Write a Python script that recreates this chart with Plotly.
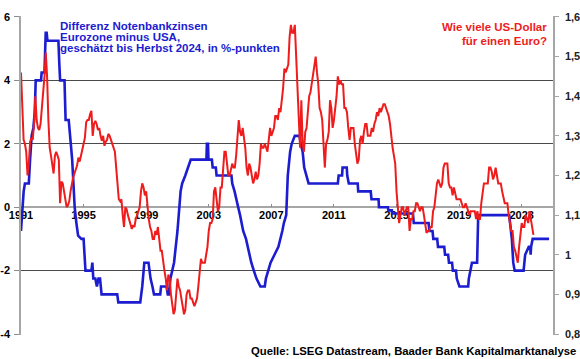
import plotly.graph_objects as go

# ---------------- data ----------------
# Differential of central bank rates, euro area (Bundesbank before 1999) minus USA, in %-points
blue_years = [1991.00, 1991.08, 1991.17, 1991.25, 1991.50, 1991.58, 1991.68, 1991.79, 1991.88, 1991.94,
              1992.28, 1992.32, 1992.50, 1992.58, 1992.64, 1992.69, 1993.39, 1993.45, 1993.50, 1993.78,
              1993.85, 1994.05, 1994.20, 1994.27, 1994.35, 1994.43, 1994.54, 1994.65, 1994.86, 1995.00,
              1995.12, 1995.50, 1995.56, 1995.62, 1995.75, 1995.85, 1995.95, 1996.05, 1996.15, 1997.15,
              1997.22, 1998.62, 1998.75, 1998.88, 1999.15, 1999.28, 1999.40, 1999.50, 1999.90, 1999.95,
              2000.30, 2000.38, 2000.45, 2000.55, 2000.78, 2001.00, 2001.20, 2001.30, 2001.50, 2001.70,
              2001.85, 2002.85, 2002.88, 2002.95, 2002.98, 2003.20, 2003.25, 2003.45, 2003.50, 2004.45,
              2004.50, 2004.65, 2004.75, 2004.88, 2005.00, 2005.10, 2005.20, 2005.38, 2005.48, 2005.62,
              2005.72, 2005.88, 2006.05, 2006.30, 2006.58, 2006.65, 2006.80, 2006.95, 2007.20, 2007.45,
              2007.70, 2007.80, 2007.95, 2008.05, 2008.20, 2008.30, 2008.50, 2008.80, 2008.88, 2009.00,
              2009.10, 2009.25, 2009.38, 2011.25, 2011.30, 2011.52, 2011.55, 2011.82, 2011.85, 2011.95,
              2012.52, 2012.55, 2013.35, 2013.40, 2013.85, 2013.88, 2014.45, 2014.48, 2014.70, 2014.72,
              2016.05, 2016.10, 2017.05, 2017.10, 2017.30, 2017.35, 2017.60, 2017.65, 2018.05, 2018.10,
              2018.30, 2018.35, 2018.55, 2018.60, 2018.80, 2018.85, 2019.02, 2019.58, 2019.62, 2019.72,
              2019.82, 2020.15, 2020.22, 2022.20, 2022.25, 2022.37, 2022.46, 2022.55, 2023.12, 2023.15,
              2023.22, 2023.45, 2023.55, 2023.57, 2023.60, 2023.70, 2024.75]
blue_diff = [-0.75, 0.0, 0.5, 0.75, 0.75, 1.5, 2.25, 2.5, 3.0, 4.0,
             4.0, 4.25, 4.25, 5.5, 5.5, 5.25, 5.25, 4.5, 4.0, 4.0,
             2.75, 2.75, 2.0, 1.5, 0.75, 0.0, -0.5, -0.9, -1.0, -1.0,
             -2.0, -2.0, -1.75, -2.25, -2.25, -2.5, -2.25, -2.25, -2.75, -2.75,
             -3.0, -3.0, -2.5, -1.75, -1.75, -2.25, -2.5, -2.75, -2.75, -2.5,
             -2.5, -2.75, -2.75, -2.25, -1.75, -0.75, 0.5, 0.75, 1.0, 1.25,
             1.5, 1.5, 2.0, 2.0, 1.5, 1.5, 1.25, 1.25, 1.0, 1.0,
             0.75, 0.5, 0.25, 0.0, -0.25, -0.5, -0.75, -1.0, -1.25, -1.5,
             -1.75, -2.0, -2.25, -2.5, -2.5, -2.25, -2.0, -1.75, -1.5, -1.25,
             -0.75, -0.5, -0.25, 1.0, 1.75, 2.0, 2.25, 2.25, 2.0, 1.75,
             1.25, 1.0, 0.75, 0.75, 1.0, 1.0, 1.25, 1.25, 1.0, 0.75,
             0.75, 0.5, 0.5, 0.25, 0.25, 0.0, 0.0, -0.1, -0.1, -0.2,
             -0.2, -0.5, -0.5, -0.75, -0.75, -1.0, -1.0, -1.25, -1.25, -1.5,
             -1.5, -1.75, -1.75, -2.0, -2.0, -2.25, -2.5, -2.5, -2.25, -2.0,
             -1.75, -1.75, -0.25, -0.25, -0.5, -1.0, -1.75, -2.0, -2.0, -1.75,
             -1.5, -1.25, -1.25, -1.5, -1.25, -1.0, -1.0]

# US-Dollar per Euro, monthly from January 1991 (synthetic before 1999)
usd_first_year = 1991
usd_per_eur = [
    1.46, 1.36, 1.29, 1.28, 1.26, 1.20, 1.23, 1.285, 1.295, 1.29, 1.33, 1.40,      # 1991
    1.34, 1.32, 1.315, 1.33, 1.365, 1.40, 1.45, 1.51, 1.45, 1.34, 1.27, 1.25,      # 1992
    1.23, 1.205, 1.25, 1.26, 1.25, 1.24, 1.13, 1.185, 1.18, 1.16, 1.13, 1.12,      # 1993
    1.125, 1.135, 1.16, 1.18, 1.195, 1.205, 1.215, 1.225, 1.245, 1.235, 1.25, 1.27,  # 1994
    1.28, 1.295, 1.335, 1.34, 1.34, 1.355, 1.363, 1.30, 1.33, 1.338, 1.33, 1.315,  # 1995
    1.32, 1.30, 1.288, 1.30, 1.275, 1.285, 1.29, 1.305, 1.30, 1.29, 1.28, 1.275,   # 1996
    1.26, 1.22, 1.18, 1.14, 1.135, 1.14, 1.10, 1.07, 1.12, 1.115, 1.10, 1.09,      # 1997
    1.08, 1.065, 1.075, 1.07, 1.09, 1.10, 1.105, 1.12, 1.16, 1.18, 1.17, 1.15,     # 1998
    1.16, 1.12, 1.09, 1.07, 1.06, 1.04, 1.04, 1.06, 1.05, 1.07, 1.03, 1.01,        # 1999
    1.01, 0.98, 0.96, 0.94, 0.91, 0.95, 0.94, 0.90, 0.87, 0.85, 0.86, 0.90,        # 2000
    0.94, 0.92, 0.91, 0.89, 0.87, 0.85, 0.86, 0.90, 0.91, 0.91, 0.89, 0.89,        # 2001
    0.88, 0.87, 0.88, 0.89, 0.92, 0.96, 0.99, 0.98, 0.98, 0.98, 1.00, 1.02,        # 2002
    1.06, 1.08, 1.08, 1.09, 1.16, 1.17, 1.14, 1.11, 1.12, 1.17, 1.17, 1.23,        # 2003
    1.26, 1.26, 1.23, 1.20, 1.20, 1.22, 1.23, 1.22, 1.22, 1.25, 1.30, 1.34,        # 2004
    1.31, 1.30, 1.32, 1.29, 1.27, 1.22, 1.20, 1.23, 1.22, 1.20, 1.18, 1.19,        # 2005
    1.21, 1.19, 1.20, 1.23, 1.28, 1.27, 1.27, 1.28, 1.27, 1.26, 1.29, 1.32,        # 2006
    1.30, 1.31, 1.32, 1.35, 1.35, 1.34, 1.37, 1.36, 1.39, 1.42, 1.47, 1.46,        # 2007
    1.47, 1.48, 1.55, 1.58, 1.56, 1.56, 1.58, 1.50, 1.44, 1.33, 1.27, 1.39,        # 2008
    1.28, 1.26, 1.31, 1.32, 1.36, 1.40, 1.41, 1.43, 1.46, 1.48, 1.50, 1.46,        # 2009
    1.43, 1.37, 1.36, 1.34, 1.26, 1.22, 1.28, 1.29, 1.31, 1.39, 1.37, 1.32,        # 2010
    1.34, 1.37, 1.40, 1.45, 1.43, 1.44, 1.43, 1.43, 1.37, 1.37, 1.36, 1.32,        # 2011
    1.29, 1.32, 1.32, 1.32, 1.28, 1.25, 1.23, 1.24, 1.29, 1.30, 1.28, 1.31,        # 2012
    1.33, 1.33, 1.30, 1.30, 1.30, 1.32, 1.31, 1.33, 1.34, 1.36, 1.35, 1.37,        # 2013
    1.36, 1.37, 1.38, 1.38, 1.37, 1.36, 1.35, 1.33, 1.29, 1.27, 1.25, 1.23,        # 2014
    1.16, 1.12, 1.08, 1.10, 1.12, 1.12, 1.10, 1.11, 1.12, 1.12, 1.06, 1.09,        # 2015
    1.09, 1.11, 1.11, 1.13, 1.13, 1.12, 1.11, 1.12, 1.12, 1.10, 1.07, 1.055,       # 2016
    1.06, 1.06, 1.07, 1.07, 1.11, 1.12, 1.15, 1.18, 1.19, 1.18, 1.17, 1.18,        # 2017
    1.22, 1.23, 1.23, 1.23, 1.18, 1.17, 1.17, 1.15, 1.17, 1.15, 1.14, 1.14,        # 2018
    1.14, 1.14, 1.13, 1.12, 1.12, 1.13, 1.12, 1.11, 1.10, 1.11, 1.11, 1.11,        # 2019
    1.11, 1.09, 1.11, 1.09, 1.09, 1.13, 1.15, 1.18, 1.18, 1.18, 1.18, 1.22,        # 2020
    1.22, 1.21, 1.19, 1.20, 1.22, 1.20, 1.18, 1.18, 1.18, 1.16, 1.14, 1.13,        # 2021
    1.13, 1.13, 1.10, 1.08, 1.06, 1.06, 1.02, 1.01, 0.99, 0.98, 1.02, 1.06,        # 2022
    1.08, 1.07, 1.07, 1.10, 1.09, 1.08, 1.11, 1.09, 1.07, 1.05,                    # 2023
]
usd_months = [usd_first_year + i / 12 for i in range(len(usd_per_eur))]

year_ticks = [1991, 1995, 1999, 2003, 2007, 2011, 2015, 2019, 2023]
left_ticks = [-4, -2, 0, 2, 4, 6]
right_ticks = [0.8, 0.9, 1.0, 1.1, 1.2, 1.3, 1.4, 1.5, 1.6]
right_tick_text = ["0,8", "0,9", "1", "1,1", "1,2", "1,3", "1,4", "1,5", "1,6"]

# ---------------- styles ----------------
BLUE = "#1c1cd0"
RED = "#ee1c1c"
FONT = "Liberation Sans, Arial, sans-serif"

fig = go.Figure()
fig.add_trace(go.Scatter(x=blue_years, y=blue_diff, mode="lines", yaxis="y",
                         line=dict(color=BLUE, width=2.6), showlegend=False, hoverinfo="skip"))
fig.add_trace(go.Scatter(x=usd_months, y=usd_per_eur, mode="lines", yaxis="y2",
                         line=dict(color=RED, width=2), showlegend=False, hoverinfo="skip"))

W, H = 580, 359
ML, MR, MT, MB = 21, 27, 16, 24
PW, PH = W - ML - MR, H - MT - MB


def px(x):
    return (x - ML) / PW


def py(y):
    return 1 - (y - MT) / PH


fig.update_layout(
    template="none",
    width=W, height=H,
    margin=dict(l=ML, r=MR, t=MT, b=MB, pad=0, autoexpand=False),
    paper_bgcolor="white", plot_bgcolor="white",
    showlegend=False,
    font=dict(family=FONT, size=11, color="black"),
    xaxis=dict(range=[1991, 2025], tickvals=year_ticks, ticktext=[str(y) for y in year_ticks],
               anchor="free", position=0.4, showgrid=False, zeroline=False, showline=False,
               automargin=False,
               ticks="inside", ticklen=3, tickcolor="#8c8c8c", layer="below traces",
               tickfont=dict(family=FONT, size=11, color="black", weight="bold")),
    yaxis=dict(range=[-4.03, 6.03], tickvals=left_ticks, ticktext=[str(v) for v in left_ticks],
               automargin=False,
               showgrid=True, gridcolor="#4a4a4a", gridwidth=1,
               zeroline=True, zerolinecolor="#a6a6a6", zerolinewidth=2,
               showline=True, linecolor="#a6a6a6", linewidth=1.5,
               ticks="outside", ticklen=5, tickcolor="#8c8c8c",
               ticklabelstandoff=2,
               tickfont=dict(family=FONT, size=11, color="black", weight="bold")),
    yaxis2=dict(range=[0.7976, 1.6024], overlaying="y", side="right", tickvals=right_ticks,
                automargin=False,
                ticktext=right_tick_text, showgrid=False, zeroline=False,
                showline=True, linecolor="#a6a6a6", linewidth=1.5,
                ticks="outside", ticklen=4, tickcolor="#a6a6a6", ticklabelstandoff=4,
                tickfont=dict(family=FONT, size=11, color="#222222", weight="bold")),
)

blue_lines = ["Differenz Notenbankzinsen", "Eurozone minus USA,", "geschätzt bis Herbst 2024, in %-punkten"]
for i, txt in enumerate(blue_lines):
    fig.add_annotation(text=txt, xref="paper", yref="paper", x=px(59), y=py(25.7 + 11 * i),
                       xanchor="left", yanchor="middle", showarrow=False, borderpad=0,
                       font=dict(family=FONT, size=11.5, color=BLUE, weight="bold"))

red_lines = ["Wie viele US-Dollar", "für einen Euro?"]
for i, txt in enumerate(red_lines):
    fig.add_annotation(text=txt, xref="paper", yref="paper", x=px(548), y=py(26.7 + 14 * i),
                       xanchor="right", yanchor="middle", showarrow=False, borderpad=0,
                       font=dict(family=FONT, size=11.5, color=RED, weight="bold"))

fig.add_annotation(text="Quelle: LSEG Datastream, Baader Bank Kapitalmarktanalyse",
                   xref="paper", yref="paper", x=px(577), y=py(351),
                   xanchor="right", yanchor="middle", showarrow=False, borderpad=0,
                   font=dict(family=FONT, size=11.3, color="black", weight="bold"))

# the page's default body margin would shift the 580x359 figure; remove it
fig.write_html("out.html", config={"displayModeBar": False},
               post_script="document.body.style.margin='0';document.body.style.overflow='hidden';")
